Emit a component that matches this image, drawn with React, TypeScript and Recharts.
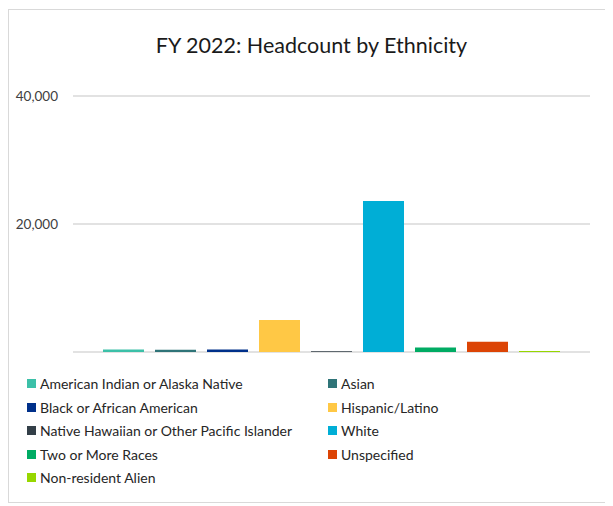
import React from 'react';
import { BarChart, Bar, XAxis, YAxis, CartesianGrid } from 'recharts';

const SERIES = [
  'American Indian or Alaska Native',
  'Asian',
  'Black or African American',
  'Hispanic/Latino',
  'Native Hawaiian or Other Pacific Islander',
  'White',
  'Two or More Races',
  'Unspecified',
  'Non-resident Alien',
];
const HEADCOUNT = [400, 350, 400, 5000, 120, 23600, 700, 1600, 150];
const COLORS = ['#3cc0a8', '#2f7478', '#00308a', '#ffc845', '#333f48', '#00aed6', '#00ab63', '#dc4405', '#97d700'];
const Y_TICKS = [0, 20000, 40000];

const FONT = 'Lato, "Open Sans", sans-serif';

const row: Record<string, string | number> = { name: 'FY 2022' };
SERIES.forEach((s, i) => { row[s] = HEADCOUNT[i]; });
const data = [row];

export default function App() {
  return (
    <div style={{ width: 605, overflow: 'hidden', marginTop: 1 }}>
      <div style={{ position: 'relative', width: 620, height: 494, border: '1px solid #d9d9d9', boxSizing: 'border-box', fontFamily: FONT, background: '#fff' }}>
        <div style={{ position: 'absolute', top: 22, left: 0, width: 605, textAlign: 'center', fontSize: 21.5, color: '#1a1a1a' }}>
          FY 2022: Headcount by Ethnicity
        </div>
        <BarChart width={604} height={347} data={data} margin={{ top: 86, right: 23, bottom: 5, left: 4 }} barCategoryGap={30} barGap={11}>
          <CartesianGrid vertical={false} stroke="#d9d9d9" strokeWidth={1.5} />
          <XAxis dataKey="name" hide />
          <YAxis width={60} domain={[0, 40000]} ticks={Y_TICKS} axisLine={false} tickLine={false} tickMargin={9}
            tick={{ fill: '#404040', fontSize: 13.5, fontFamily: FONT }}
            tickFormatter={(v: number) => v.toLocaleString('en-US')} />
          {SERIES.map((s, i) => (
            <Bar key={s} dataKey={s} fill={COLORS[i]} isAnimationActive={false} />
          ))}
        </BarChart>
        <div style={{ position: 'absolute', top: 364, left: 18, display: 'grid', gridTemplateColumns: '301px 260px', rowGap: 4.5 }}>
          {SERIES.map((s, i) => (
            <div key={s} style={{ display: 'flex', alignItems: 'center', height: 19, fontSize: 14, color: '#262626' }}>
              <span style={{ width: 9, height: 9, background: COLORS[i], marginRight: 4, display: 'inline-block' }} />
              {s}
            </div>
          ))}
        </div>
      </div>
    </div>
  );
}
